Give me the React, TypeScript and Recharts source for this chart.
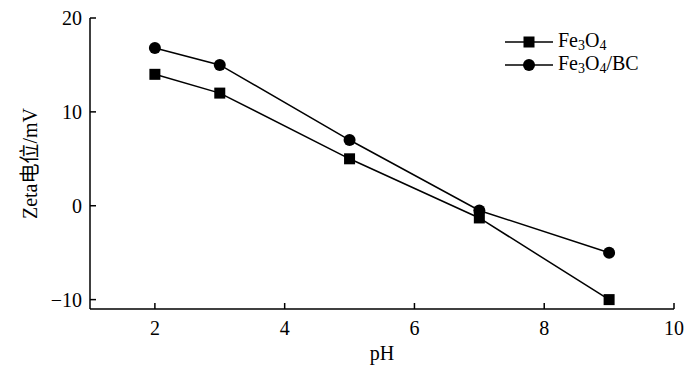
import { LineChart, Line, XAxis, YAxis } from 'recharts'

const phValues = [2, 3, 5, 7, 9]
const fe3o4Zeta = [14, 12, 5, -1.3, -10]
const fe3o4BcZeta = [16.8, 15, 7, -0.5, -5]
const xTicks = [2, 4, 6, 8, 10]
const yTicks = [-10, 0, 10, 20]

const data = phValues.map((ph, i) => ({
  ph,
  fe3o4: fe3o4Zeta[i],
  fe3o4bc: fe3o4BcZeta[i],
}))

const FONT = "'Liberation Serif', 'Noto Sans CJK SC', serif"
const fmt = (v: number) => String(v).replace('-', '\u2212')

function XTick(props: any) {
  const { x, y, payload } = props
  return (
    <g>
      <line x1={x} y1={y} x2={x} y2={y - 6} stroke="#000" strokeWidth={1.5} />
      <text x={x} y={y + 26} textAnchor="middle" fontFamily={FONT} fontSize={20} fill="#000">
        {fmt(payload.value)}
      </text>
    </g>
  )
}

function YTick(props: any) {
  const { x, y, payload } = props
  return (
    <g>
      <line x1={x} y1={y} x2={x + 6} y2={y} stroke="#000" strokeWidth={1.5} />
      <text x={x - 8} y={y + 7} textAnchor="end" fontFamily={FONT} fontSize={20} fill="#000">
        {fmt(payload.value)}
      </text>
    </g>
  )
}

function SquareDot(props: any) {
  const { cx, cy } = props
  if (cx == null || cy == null) return null
  return <rect x={cx - 5.5} y={cy - 5.5} width={11} height={11} fill="#000" />
}

function Marker({ kind }: { kind: string }) {
  return (
    <svg width={48} height={14} style={{ verticalAlign: 'middle' }}>
      <line x1={0} y1={7} x2={48} y2={7} stroke="#000" strokeWidth={1.5} />
      {kind === 'square' ? (
        <rect x={18.5} y={1.5} width={11} height={11} fill="#000" />
      ) : (
        <circle cx={24} cy={7} r={6} fill="#000" />
      )}
    </svg>
  )
}

function LegendBox() {
  const sub = { fontSize: 14, verticalAlign: '-3px' }
  const row = { height: 23, lineHeight: '23px' }
  return (
    <div
      style={{
        position: 'absolute',
        left: 505,
        top: 29,
        fontFamily: FONT,
        fontSize: 20,
        color: '#000',
        whiteSpace: 'nowrap',
      }}
    >
      <div style={row}>
        <Marker kind="square" /> Fe<span style={sub}>3</span>O<span style={sub}>4</span>
      </div>
      <div style={row}>
        <Marker kind="circle" /> Fe<span style={sub}>3</span>O<span style={sub}>4</span>/BC
      </div>
    </div>
  )
}

export default function App() {
  return (
    <div
      style={{
        position: 'absolute',
        left: 0,
        top: 0,
        width: 700,
        height: 380,
        background: '#fff',
        fontFamily: FONT,
      }}
    >
      <LineChart
        width={700}
        height={380}
        data={data}
        margin={{ top: 18, right: 26, left: 0, bottom: 0 }}
        style={{ fontFamily: FONT }}
      >
        <XAxis
          dataKey="ph"
          type="number"
          domain={[1, 10]}
          ticks={xTicks}
          height={71}
          tickSize={0}
          tickMargin={0}
          tickLine={false}
          tick={<XTick />}
          axisLine={{ stroke: '#000', strokeWidth: 1.5 }}
          label={{
            value: 'pH',
            position: 'insideBottom',
            offset: 20,
            fontFamily: FONT,
            fontSize: 20,
            fill: '#000',
          }}
        />
        <XAxis
          xAxisId="top"
          orientation="top"
          type="number"
          domain={[1, 10]}
          height={0}
          tick={false}
          tickLine={false}
          axisLine={{ stroke: '#000', strokeWidth: 1.5 }}
        />
        <YAxis
          type="number"
          domain={[-11, 20]}
          ticks={yTicks}
          width={90}
          tickSize={0}
          tickMargin={0}
          tickLine={false}
          tick={<YTick />}
          allowDataOverflow
          axisLine={{ stroke: '#000', strokeWidth: 1.5 }}
          label={{
            value: 'Zeta电位/mV',
            angle: -90,
            position: 'insideLeft',
            offset: 30,
            style: { textAnchor: 'middle' },
            fontFamily: FONT,
            fontSize: 20,
            fill: '#000',
          }}
        />
        <YAxis
          yAxisId="right"
          orientation="right"
          domain={[-11, 20]}
          width={0}
          tick={false}
          tickLine={false}
          axisLine={{ stroke: '#000', strokeWidth: 1.5 }}
        />
        <Line
          dataKey="fe3o4"
          name="Fe3O4"
          stroke="#000"
          strokeWidth={1.5}
          dot={<SquareDot />}
          isAnimationActive={false}
        />
        <Line
          dataKey="fe3o4bc"
          name="Fe3O4/BC"
          stroke="#000"
          strokeWidth={1.5}
          dot={{ r: 6, fill: '#000', stroke: 'none' }}
          isAnimationActive={false}
        />
      </LineChart>
      <LegendBox />
    </div>
  )
}
